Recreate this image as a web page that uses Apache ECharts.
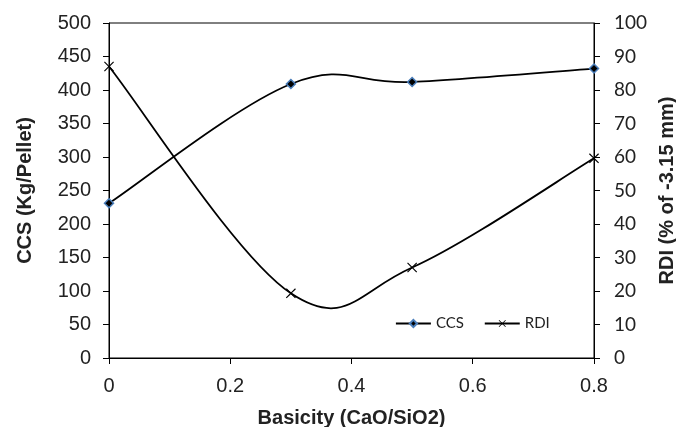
<!DOCTYPE html>
<html>
<head>
<meta charset="utf-8">
<script src="https://cdn.jsdelivr.net/npm/echarts@6/dist/echarts.min.js"></script>
<style>
  html, body { margin: 0; padding: 0; background: #fff; overflow: hidden; }
  #chart { width: 676px; height: 427px; }
</style>
</head>
<body>
<div id="chart"></div>
<script>
// Basicity values (CaO/SiO2) for the pellet samples
const basicity = [0, 0.3, 0.5, 0.8];
// Cold crushing strength, Kg/Pellet (left axis)
const ccs = [231, 409, 412, 432];
// Reduction degradation index, % of -3.15 mm (right axis)
const rdi = [87, 19.3, 27, 59.6];

const leftTicks = { min: 0, max: 500, interval: 50 };
const rightTicks = { min: 0, max: 100, interval: 10 };
const xTicks = { min: 0, max: 0.8, interval: 0.2 };

const pairs = (xs, ys) => xs.map((x, i) => [x, ys[i]]);

// thin filled "x" cross marker
const crossPath = 'path://M0,0.8L0.8,0L5,4.2L9.2,0L10,0.8L5.8,5L10,9.2L9.2,10L5,5.8L0.8,10L0,9.2L4.2,5Z';

const arial = '"Liberation Sans", Arial, sans-serif';
const calib = 'Lato, "Open Sans", sans-serif';

// Cardinal-spline segment between point i and i+1, computed in pixel space
// from the axis-mapped data points.
const TENSION = 0.18;
function curveRenderer(xs, ys) {
  return function (params, api) {
    const i = api.value(2);
    const pts = xs.map((x, k) => api.coord([x, ys[k]]));
    const n = pts.length;
    const p0 = pts[Math.max(i - 1, 0)];
    const p1 = pts[i];
    const p2 = pts[i + 1];
    const p3 = pts[Math.min(i + 2, n - 1)];
    return {
      type: 'bezierCurve',
      shape: {
        x1: p1[0], y1: p1[1],
        x2: p2[0], y2: p2[1],
        cpx1: p1[0] + (p2[0] - p0[0]) * TENSION,
        cpy1: p1[1] + (p2[1] - p0[1]) * TENSION,
        cpx2: p2[0] - (p3[0] - p1[0]) * TENSION,
        cpy2: p2[1] - (p3[1] - p1[1]) * TENSION
      },
      style: { stroke: '#000', lineWidth: 1.8, fill: null },
      silent: true
    };
  };
}
const segments = (xs, ys) => xs.slice(0, -1).map((x, i) => [x, ys[i], i]);

const chart = echarts.init(document.getElementById('chart'), null, { renderer: 'canvas' });
chart.setOption({
  animation: false,
  backgroundColor: '#ffffff',
  grid: {
    left: 109, right: 82, top: 23, bottom: 69,
    outerBoundsMode: 'none',
    containLabel: false,
    show: true, borderColor: '#000', borderWidth: 1
  },
  legend: {
    left: 390, top: 311,
    itemWidth: 35, itemHeight: 9, itemGap: 20,
    lineStyle: { color: '#000', width: 1.8, opacity: 1 },
    textStyle: { fontFamily: calib, fontSize: 15, color: '#222' },
    data: ['CCS', 'RDI']
  },
  xAxis: {
    type: 'value',
    min: xTicks.min, max: xTicks.max, interval: xTicks.interval,
    name: 'Basicity (CaO/SiO2)',
    nameLocation: 'middle', nameGap: 50,
    nameTextStyle: { fontFamily: arial, fontWeight: 'bold', fontSize: 20, color: '#222' },
    axisLine: { lineStyle: { color: '#000', width: 1 } },
    axisTick: { show: true, length: 6, lineStyle: { color: '#000' } },
    axisLabel: {
      fontFamily: arial, fontSize: 20, color: '#222', margin: 18,
      formatter: v => String(Math.round(v * 10) / 10)
    },
    splitLine: { show: false }
  },
  yAxis: [
    {
      type: 'value', position: 'left',
      min: leftTicks.min, max: leftTicks.max, interval: leftTicks.interval,
      name: 'CCS (Kg/Pellet)',
      nameLocation: 'middle', nameGap: 74, nameRotate: 90,
      nameTextStyle: { fontFamily: arial, fontWeight: 'bold', fontSize: 20, color: '#222' },
      axisLine: { show: true, lineStyle: { color: '#000', width: 1 } },
      axisTick: { show: true, length: 6, lineStyle: { color: '#000' } },
      axisLabel: { fontFamily: arial, fontSize: 20, color: '#222', margin: 18 },
      splitLine: { show: false }
    },
    {
      type: 'value', position: 'right',
      min: rightTicks.min, max: rightTicks.max, interval: rightTicks.interval,
      name: 'RDI (% of -3.15 mm)',
      nameLocation: 'middle', nameGap: 62, nameRotate: 90,
      nameTextStyle: { fontFamily: arial, fontWeight: 'bold', fontSize: 20, color: '#222' },
      axisLine: { show: true, lineStyle: { color: '#000', width: 1 } },
      axisTick: { show: true, length: 6, lineStyle: { color: '#000' } },
      axisLabel: { fontFamily: calib, fontSize: 19, color: '#222', margin: 20 },
      splitLine: { show: false }
    }
  ],
  series: [
    {
      name: 'CCS curve', type: 'custom', yAxisIndex: 0, z: 1,
      data: segments(basicity, ccs),
      encode: { x: 0, y: 1 },
      renderItem: curveRenderer(basicity, ccs)
    },
    {
      name: 'RDI curve', type: 'custom', yAxisIndex: 1, z: 1,
      data: segments(basicity, rdi),
      encode: { x: 0, y: 1 },
      renderItem: curveRenderer(basicity, rdi)
    },
    {
      name: 'CCS', type: 'line', yAxisIndex: 0, z: 3,
      data: pairs(basicity, ccs),
      symbol: 'diamond', symbolSize: 9,
      lineStyle: { color: '#000', width: 0, opacity: 0 },
      itemStyle: { color: '#000', borderColor: '#4a7ebb', borderWidth: 1.5 }
    },
    {
      name: 'RDI', type: 'line', yAxisIndex: 1, z: 3,
      data: pairs(basicity, rdi),
      symbol: crossPath, symbolSize: 10, symbolKeepAspect: true,
      lineStyle: { color: '#000', width: 0, opacity: 0 },
      itemStyle: { color: '#000', borderWidth: 0 }
    }
  ]
});
</script>
</body>
</html>
